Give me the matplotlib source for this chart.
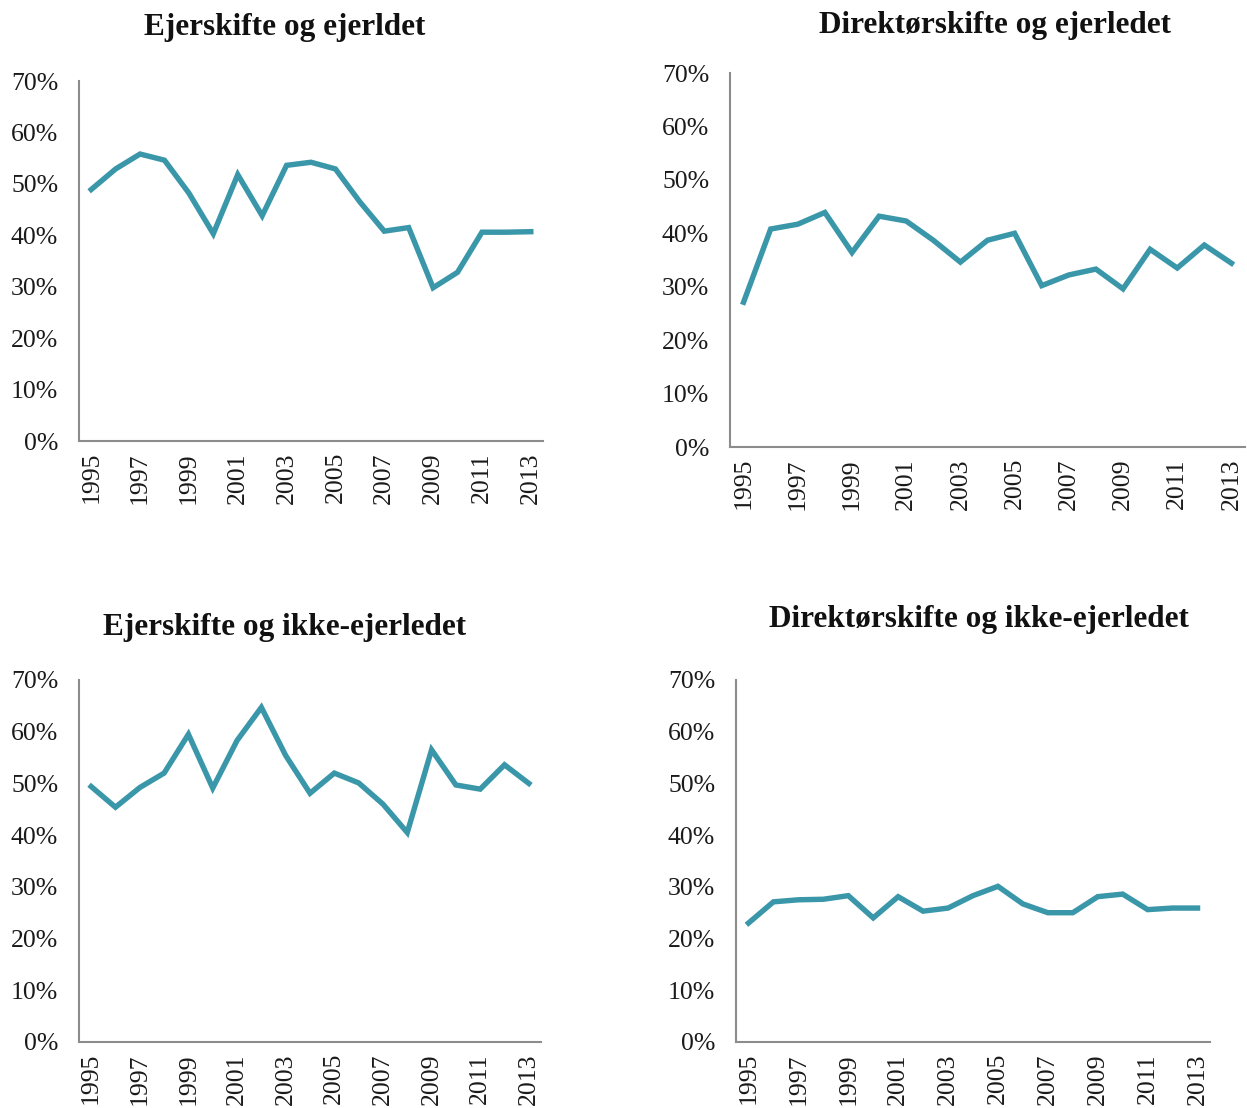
import numpy as np
import matplotlib
matplotlib.use("Agg")
import matplotlib.pyplot as plt
from matplotlib.ticker import PercentFormatter

plt.rcParams['font.family'] = ['Liberation Serif', 'DejaVu Serif']

years = list(range(1995, 2014))

# share of firms per year (%)
ejer_ejerledet = [48.9, 52.9, 55.8, 54.6, 48.2, 40.3, 51.8, 43.8, 53.6, 54.2, 52.9, 46.5, 40.8, 41.5, 29.8, 32.8, 40.6, 40.6, 40.7]
direktor_ejerledet = [27.1, 40.8, 41.7, 43.9, 36.4, 43.2, 42.3, 38.7, 34.6, 38.7, 40.0, 30.2, 32.2, 33.3, 29.6, 37.0, 33.5, 37.8, 34.4]
ejer_ikke_ejerledet = [49.4, 45.4, 49.2, 52.0, 59.5, 49.1, 58.3, 64.7, 55.4, 48.1, 52.0, 50.1, 46.0, 40.5, 56.5, 49.7, 48.9, 53.6, 50.0]
direktor_ikke_ejerledet = [23.0, 27.1, 27.5, 27.6, 28.3, 24.0, 28.1, 25.3, 25.9, 28.3, 30.1, 26.7, 25.0, 25.0, 28.1, 28.6, 25.6, 25.9, 25.9]

titles = ["Ejerskifte og ejerldet", "Direktørskifte og ejerledet",
          "Ejerskifte og ikke-ejerledet", "Direktørskifte og ikke-ejerledet"]
series = [ejer_ejerledet, direktor_ejerledet, ejer_ikke_ejerledet, direktor_ikke_ejerledet]

W, H = 1247, 1108
# axes boxes in pixels: left, right, top (70%), bottom (0%)
boxes = [(79, 543, 81, 441), (730, 1245, 73, 447), (79, 541, 680, 1042), (736, 1210, 680, 1042)]
title_pos = [(285, 27), (995, 25), (285, 627), (979, 620)]

line_color = "#3A97A9"
axis_color = "#8C8C8C"

fig = plt.figure(figsize=(W / 100, H / 100), dpi=100)

for vals, title, (l, r, t, b), (tx, ty) in zip(series, titles, boxes, title_pos):
    ax = fig.add_axes([l / W, 1 - b / H, (r - l) / W, (b - t) / H])
    x = np.arange(len(years))
    ax.plot(x, vals, color=line_color, linewidth=3.9, solid_joinstyle='miter')
    ax.set_xlim(-0.5, len(years) - 0.5)
    ax.set_ylim(0, 70)
    ax.set_yticks(range(0, 71, 10))
    ax.yaxis.set_major_formatter(PercentFormatter(decimals=0))
    ax.set_xticks(x[::2])
    ax.set_xticklabels([str(y) for y in years[::2]], rotation=90)
    ax.tick_params(length=0, labelsize=18.5, colors="#1a1a1a")
    ax.tick_params(axis='y', pad=15)
    ax.tick_params(axis='x', pad=8)
    for side in ("top", "right"):
        ax.spines[side].set_visible(False)
    for side in ("left", "bottom"):
        ax.spines[side].set_color(axis_color)
        ax.spines[side].set_linewidth(1.5)
    fig.text(tx / W, 1 - ty / H, title, ha='center', va='center',
             fontsize=22.5, fontweight='bold', color="#111111")

fig.savefig("out.png", dpi=100)
